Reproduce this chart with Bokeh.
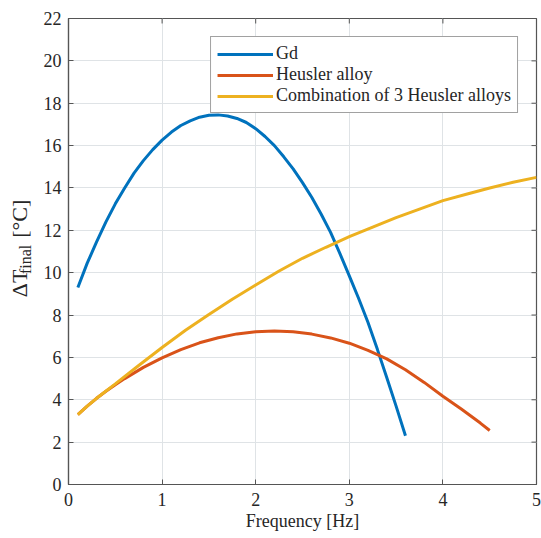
from bokeh.plotting import figure
from bokeh.models import Range1d, FixedTicker, Legend, LegendItem
from bokeh.layouts import row
from bokeh.embed import file_html
from bokeh.resources import INLINE
from bokeh.core.properties import value
import math

# ---- data ----
gd_x = [0.1, 0.2, 0.3, 0.4, 0.5, 0.6, 0.7, 0.8, 0.9, 1.0, 1.1, 1.2, 1.3, 1.4, 1.5, 1.6,
        1.7, 1.8, 1.9, 2.0, 2.1, 2.2, 2.3, 2.4, 2.5, 2.6, 2.7, 2.8, 2.9, 3.0, 3.1, 3.2,
        3.3, 3.4, 3.5, 3.6]
gd_y = [9.3, 10.45, 11.45, 12.4, 13.25, 14.0, 14.7, 15.29, 15.81, 16.26, 16.64, 16.95,
        17.17, 17.34, 17.43, 17.45, 17.4, 17.28, 17.09, 16.8, 16.43, 16.0, 15.47, 14.9,
        14.25, 13.55, 12.76, 11.9, 10.9, 9.85, 8.78, 7.65, 6.38, 5.05, 3.7, 2.3]

heusler_x = [0.1, 0.2, 0.3, 0.4, 0.5, 0.6, 0.8, 1.0, 1.2, 1.4, 1.6, 1.8, 2.0, 2.2,
             2.4, 2.6, 2.8, 3.0, 3.2, 3.4, 3.6, 3.8, 4.0, 4.2, 4.4, 4.5]
heusler_y = [3.3, 3.7, 4.07, 4.4, 4.71, 5.0, 5.53, 5.98, 6.37, 6.69, 6.93, 7.11, 7.21,
             7.25, 7.21, 7.1, 6.92, 6.67, 6.33, 5.93, 5.42, 4.82, 4.17, 3.55, 2.9, 2.55]

combo_x = [0.1, 0.2, 0.3, 0.5, 0.75, 1.0, 1.25, 1.5, 1.75, 2.0, 2.25, 2.5, 2.75, 3.0,
           3.25, 3.5, 3.75, 4.0, 4.25, 4.5, 4.75, 5.0]
combo_y = [3.3, 3.7, 4.07, 4.75, 5.62, 6.47, 7.28, 8.03, 8.75, 9.42, 10.08, 10.68, 11.2,
           11.7, 12.15, 12.6, 13.0, 13.4, 13.7, 14.0, 14.27, 14.5]

legend_labels = ["Gd", "Heusler alloy", "Combination of 3 Heusler alloys"]
x_label = "Frequency [Hz]"
y_label_parts = ["ΔT", "final", "[°C]"]
x_ticks = [0, 1, 2, 3, 4, 5]
y_ticks = [0, 2, 4, 6, 8, 10, 12, 14, 16, 18, 20, 22]

FONT = "Liberation Serif"
AX = "#555555"
TXT = "#262626"
H = 533
SIDE_W = 38

# ---------- main plot ----------
p = figure(width=503, height=H, output_backend="svg", toolbar_location=None,
           x_range=Range1d(0, 5), y_range=Range1d(0, 22),
           min_border_left=30, min_border_right=5, min_border_top=18, min_border_bottom=48)
p.background_fill_color = "white"
p.border_fill_color = "white"
p.outline_line_color = AX
p.outline_line_width = 1.2

for ax in (p.xaxis[0], p.yaxis[0]):
    ax.major_label_text_font = FONT
    ax.major_label_text_font_size = "18px"
    ax.major_label_text_color = TXT
    ax.axis_line_color = AX
    ax.axis_line_width = 1.2
    ax.major_tick_line_color = AX
    ax.major_tick_in = 5
    ax.major_tick_out = 0
    ax.minor_tick_line_color = None
    ax.axis_label_text_font = FONT
    ax.axis_label_text_font_style = "normal"
    ax.axis_label_text_font_size = "18px"
    ax.axis_label_text_color = TXT

p.xaxis.ticker = FixedTicker(ticks=x_ticks)
p.yaxis.ticker = FixedTicker(ticks=y_ticks)
p.xaxis.axis_label = x_label
p.xaxis.major_label_standoff = 8
p.xaxis.axis_label_standoff = 2
p.yaxis.major_label_standoff = 7

p.xgrid.ticker = FixedTicker(ticks=x_ticks)
p.ygrid.ticker = FixedTicker(ticks=y_ticks)
p.grid.grid_line_color = "#dfe3e6"
p.grid.grid_line_width = 1

# inward ticks on the top and right edges of the box
tick_dx = 5 / 93.5
tick_dy = 5 / 21.2
p.segment(x0=[5] * len(y_ticks), x1=[5 - tick_dx] * len(y_ticks), y0=y_ticks, y1=y_ticks,
          line_color=AX, line_width=1)
p.segment(x0=x_ticks, x1=x_ticks, y0=[22] * len(x_ticks), y1=[22 - tick_dy] * len(x_ticks),
          line_color=AX, line_width=1)

r1 = p.line(gd_x, gd_y, line_color="#0072BD", line_width=3)
r2 = p.line(heusler_x, heusler_y, line_color="#D95319", line_width=3)
r3 = p.line(combo_x, combo_y, line_color="#EDB120", line_width=3)

legend = Legend(items=[LegendItem(label=legend_labels[0], renderers=[r1]),
                       LegendItem(label=legend_labels[1], renderers=[r2]),
                       LegendItem(label=legend_labels[2], renderers=[r3])],
                location="top_right")
legend.margin = 18
legend.padding = 6
legend.spacing = 0
legend.glyph_width = 56
legend.glyph_height = 20
legend.label_height = 20
legend.label_standoff = 3
legend.label_text_font = FONT
legend.label_text_font_size = "18px"
legend.label_text_color = TXT
legend.border_line_color = "#444444"
legend.border_line_width = 1
legend.background_fill_alpha = 1
p.add_layout(legend)

# ---------- side strip holding the y-axis label (with subscript) ----------
s = figure(width=SIDE_W, height=H, output_backend="svg", toolbar_location=None,
           x_range=Range1d(0, SIDE_W), y_range=Range1d(-H, 0),
           x_axis_type=None, y_axis_type=None, min_border=0)
s.outline_line_color = None
s.grid.visible = False
s.border_fill_color = "white"
s.background_fill_color = "white"
s.text(x=[19, 19], y=[-303, -229], text=[y_label_parts[0], y_label_parts[2]],
       angle=math.pi / 2, text_align="center", text_baseline="middle",
       text_font=value(FONT), text_font_size="22px", text_color=TXT)
s.text(x=[25], y=[-275.5], text=[y_label_parts[1]],
       angle=math.pi / 2, text_align="center", text_baseline="middle",
       text_font=value(FONT), text_font_size="16px", text_color=TXT)

layout = row(s, p, spacing=0)
open("out.html", "w").write(file_html(layout, INLINE))
